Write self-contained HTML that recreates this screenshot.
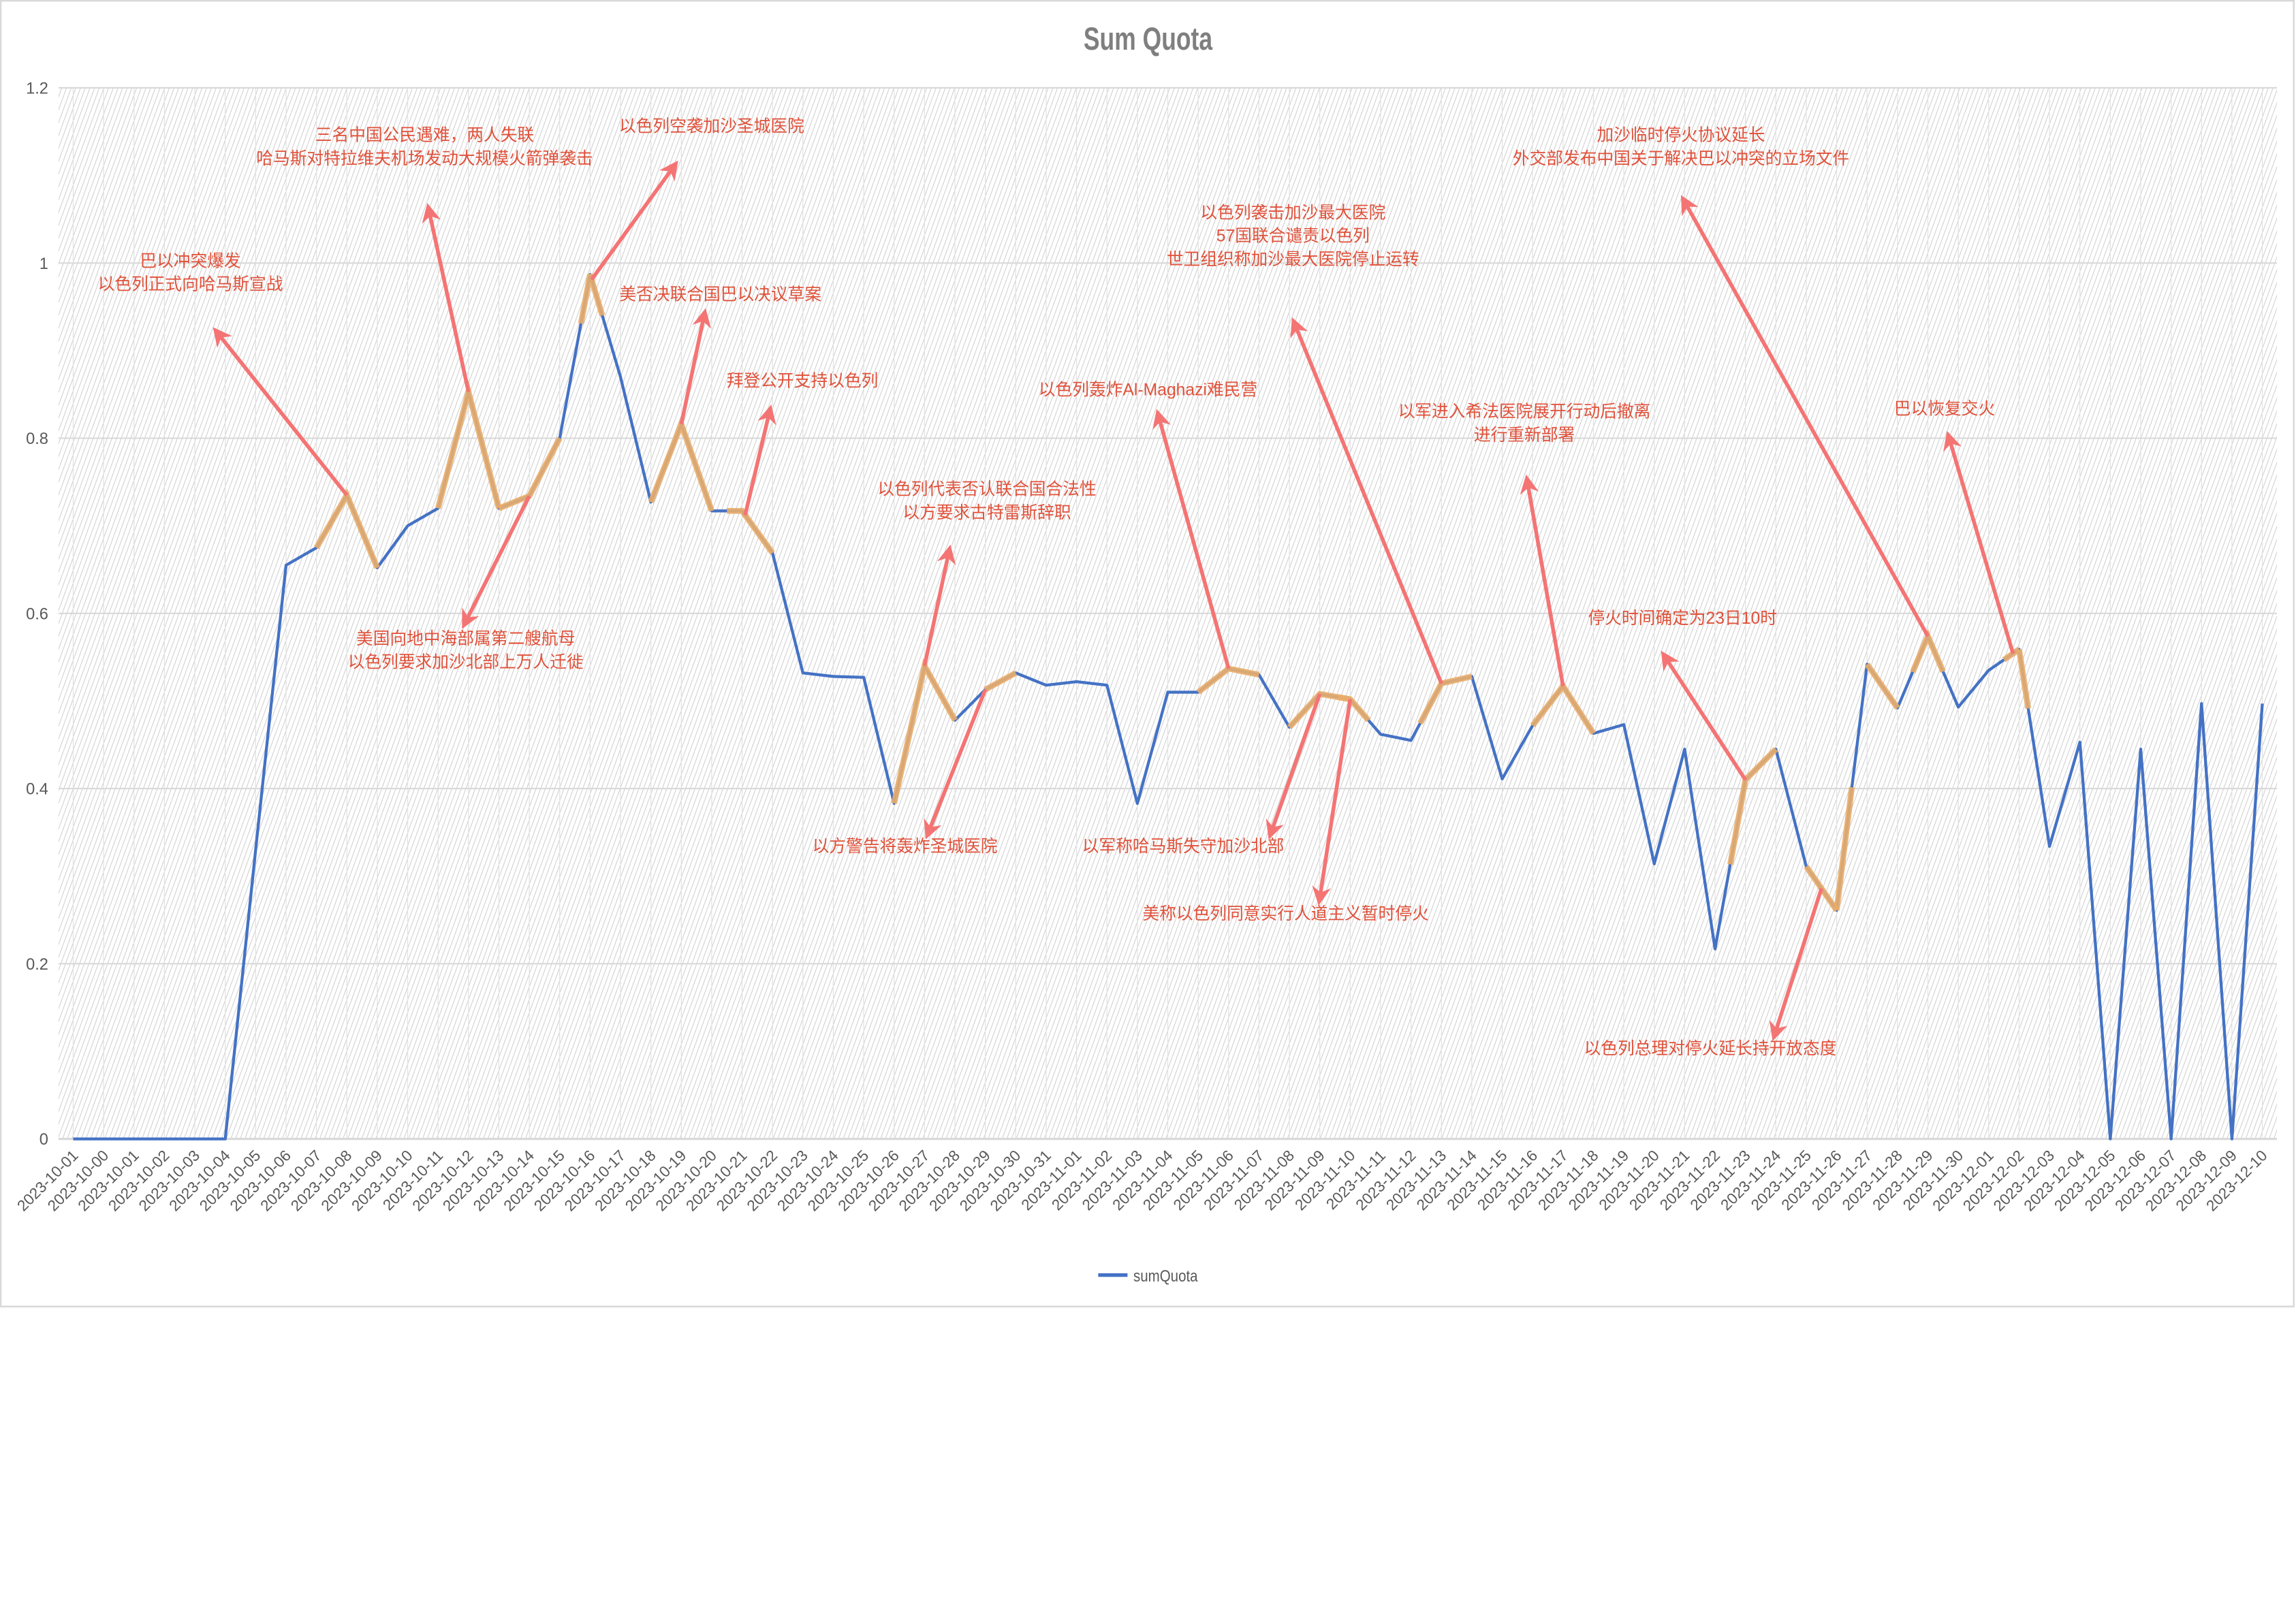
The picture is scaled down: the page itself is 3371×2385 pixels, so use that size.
<!DOCTYPE html>
<html><head><meta charset="utf-8">
<style>
html,body{margin:0;padding:0;background:#fff;}
svg{display:block;}
text{font-family:"Liberation Sans","Noto Sans CJK SC",sans-serif;}
</style></head>
<body>
<svg id="chart" width="3371" height="2385" viewBox="0 0 1568 1109.35" xmlns="http://www.w3.org/2000/svg">
<defs>
<pattern id="hatch" patternUnits="userSpaceOnUse" width="3" height="9" patternTransform="rotate(20)">
<line x1="0" y1="0" x2="0" y2="9" stroke="#cccccc" stroke-width="0.9"/>
</pattern>
<marker id="ah" viewBox="0 0 10 10" refX="6" refY="5" markerWidth="5" markerHeight="5" orient="auto">
<path d="M0,0 L10,5 L0,10 L3,5 z" fill="#f47474"/>
</marker>
</defs>
<rect x="0.5" y="0.5" width="1566" height="892" fill="#fff" stroke="#d9d9d9" stroke-width="1.2"/>
<text x="784" y="34" text-anchor="middle" font-size="22" font-weight="bold" fill="#7f7f7f" textLength="88" lengthAdjust="spacingAndGlyphs">Sum Quota</text>
<rect x="40" y="60" width="1515" height="718" fill="url(#hatch)"/>
<g id="grid"></g>
<g id="yticks"></g>
<g id="xticks"></g>
<g id="series"></g>
<g id="highlights"></g>
<g id="arrows"></g>
<g id="notes"></g>
<g>
<line x1="750" y1="871" x2="770" y2="871" stroke="#4472c4" stroke-width="2.5"/>
<text x="774" y="875.5" font-size="11" fill="#595959" textLength="44" lengthAdjust="spacingAndGlyphs">sumQuota</text>
</g>
</svg>
<script>
const categories = ["2023-10-01","2023-10-00","2023-10-01","2023-10-02","2023-10-03","2023-10-04","2023-10-05","2023-10-06","2023-10-07","2023-10-08","2023-10-09","2023-10-10","2023-10-11","2023-10-12","2023-10-13","2023-10-14","2023-10-15","2023-10-16","2023-10-17","2023-10-18","2023-10-19","2023-10-20","2023-10-21","2023-10-22","2023-10-23","2023-10-24","2023-10-25","2023-10-26","2023-10-27","2023-10-28","2023-10-29","2023-10-30","2023-10-31","2023-11-01","2023-11-02","2023-11-03","2023-11-04","2023-11-05","2023-11-06","2023-11-07","2023-11-08","2023-11-09","2023-11-10","2023-11-11","2023-11-12","2023-11-13","2023-11-14","2023-11-15","2023-11-16","2023-11-17","2023-11-18","2023-11-19","2023-11-20","2023-11-21","2023-11-22","2023-11-23","2023-11-24","2023-11-25","2023-11-26","2023-11-27","2023-11-28","2023-11-29","2023-11-30","2023-12-01","2023-12-02","2023-12-03","2023-12-04","2023-12-05","2023-12-06","2023-12-07","2023-12-08","2023-12-09","2023-12-10"];
const sumQuota = [0,0,0,0,0,0,0.33,0.655,0.675,0.735,0.652,0.70,0.72,0.853,0.72,0.734,0.80,0.987,0.87,0.727,0.816,0.717,0.717,0.669,0.532,0.528,0.527,0.383,0.54,0.478,0.513,0.532,0.518,0.522,0.518,0.383,0.51,0.51,0.537,0.53,0.47,0.508,0.502,0.462,0.455,0.52,0.528,0.411,0.472,0.517,0.463,0.473,0.314,0.445,0.217,0.41,0.445,0.311,0.261,0.542,0.492,0.574,0.493,0.535,0.559,0.334,0.453,0,0.445,0,0.497,0,0.497];
const yTicks = [0,0.2,0.4,0.6,0.8,1,1.2];
const yTickLabels = ["0","0.2","0.4","0.6","0.8","1","1.2"];
const highlightStarts = [8,12,14,16.7,19,21.5,27,30,37,40,41.6,44.3,48,54.5,57,58,59,60.5,63.5,64];
const highlightEnds   = [10,14,16,17.4,21,23,29,31,39,42,42.6,46,50,56,58,58.5,60,61.5,64,64.3];
const noteIdx   = [9,13,15,17.05,20,22.1,28,30,38,41,42,45,49,55,57.5,61,63.8];
const noteTipX  = [4.75,11.7,12.9,19.75,20.75,22.9,28.8,28.13,35.7,39.4,41.0,40.18,47.83,52.36,55.97,53.0,61.7];
const noteTipV  = [0.92,1.06,0.59,1.11,0.94,0.83,0.67,0.35,0.825,0.35,0.275,0.93,0.75,0.55,0.12,1.07,0.80];
const noteLines = [["巴以冲突爆发","以色列正式向哈马斯宣战"],["三名中国公民遇难，两人失联","哈马斯对特拉维夫机场发动大规模火箭弹袭击"],["美国向地中海部属第二艘航母","以色列要求加沙北部上万人迁徙"],["以色列空袭加沙圣城医院"],["美否决联合国巴以决议草案"],["拜登公开支持以色列"],["以色列代表否认联合国合法性","以方要求古特雷斯辞职"],["以方警告将轰炸圣城医院"],["以色列轰炸Al-Maghazi难民营"],["以军称哈马斯失守加沙北部"],["美称以色列同意实行人道主义暂时停火"],["以色列袭击加沙最大医院","57国联合谴责以色列","世卫组织称加沙最大医院停止运转"],["以军进入希法医院展开行动后撤离","进行重新部署"],["停火时间确定为23日10时"],["以色列总理对停火延长持开放态度"],["加沙临时停火协议延长","外交部发布中国关于解决巴以冲突的立场文件"],["巴以恢复交火"]];
const noteTextX = [130,290,318,486,492,548,674,618,784,808,878,883,1041,1149,1168,1148,1328];
const noteTextY = [178,92,436,86,201,260,334,578,266,578,624,145,281,422,716,92,279];

const NS="http://www.w3.org/2000/svg";
const X0=50, X1=1545, Y0=778, Y1=60, VMAX=1.2;
function xs(i){return X0+(X1-X0)*i/(categories.length-1);}
function ys(v){return Y0-(Y0-Y1)*v/VMAX;}
function valAt(f){const a=Math.floor(f), b=Math.min(a+1,sumQuota.length-1), t=f-a;return sumQuota[a]*(1-t)+sumQuota[b]*t;}
function mk(tag,attrs,parent){const e=document.createElementNS(NS,tag);for(const k in attrs)e.setAttribute(k,attrs[k]);parent.appendChild(e);return e;}

const grid=document.getElementById('grid');
for(let i=0;i<categories.length;i++){
  const l=mk('line',{x1:xs(i),x2:xs(i),y1:Y1,y2:Y0,stroke:'#e3e3e3','stroke-width':0.6},grid);
  
  
}
const yt=document.getElementById('yticks');
yTicks.forEach((v,k)=>{
  const l=mk('line',{x1:40,x2:1555,y1:ys(v),y2:ys(v),stroke:'#d9d9d9','stroke-width':v===0?1.5:1},grid);
  
  
  const t=mk('text',{x:33,y:ys(v)+4,'text-anchor':'end','font-size':11,fill:'#595959'},yt);
  t.textContent=yTickLabels[k];
  
  
});
const xt=document.getElementById('xticks');
categories.forEach((c,i)=>{
  const t=mk('text',{x:xs(i)+4,y:790,'text-anchor':'end','font-size':10.5,fill:'#595959',transform:`rotate(-45 ${xs(i)+4} 790)`},xt);
  t.textContent=c;
  
  
});
const ser=document.getElementById('series');
const pl=mk('polyline',{points:sumQuota.map((v,i)=>xs(i)+','+ys(v)).join(' '),fill:'none',stroke:'#4472c4','stroke-width':2,'stroke-linejoin':'round'},ser);


const hl=document.getElementById('highlights');
highlightStarts.forEach((a,k)=>{
  const b=highlightEnds[k];const pts=[a];
  for(let i=Math.ceil(a);i<b;i++){if(i>a)pts.push(i);}pts.push(b);
  const p=mk('polyline',{points:pts.map(f=>xs(f)+','+ys(valAt(f))).join(' '),fill:'none',stroke:'#e9ad6b','stroke-opacity':0.9,'stroke-width':4,'stroke-linejoin':'miter'},hl);
  
  
});
const ar=document.getElementById('arrows'), nt=document.getElementById('notes');
noteIdx.forEach((f,k)=>{
  const a=mk('line',{x1:xs(f),y1:ys(valAt(f)),x2:xs(noteTipX[k]),y2:ys(noteTipV[k]),stroke:'#f47474','stroke-width':2.6,'marker-end':'url(#ah)'},ar);
  
  
  noteLines[k].forEach((s,j)=>{
    const t=mk('text',{x:noteTextX[k],y:noteTextY[k]+16*j+4,'text-anchor':'middle','font-size':11.5,fill:'#e0513a'},nt);
    t.textContent=s;
    
    
  });
});
</script>
</body></html>
